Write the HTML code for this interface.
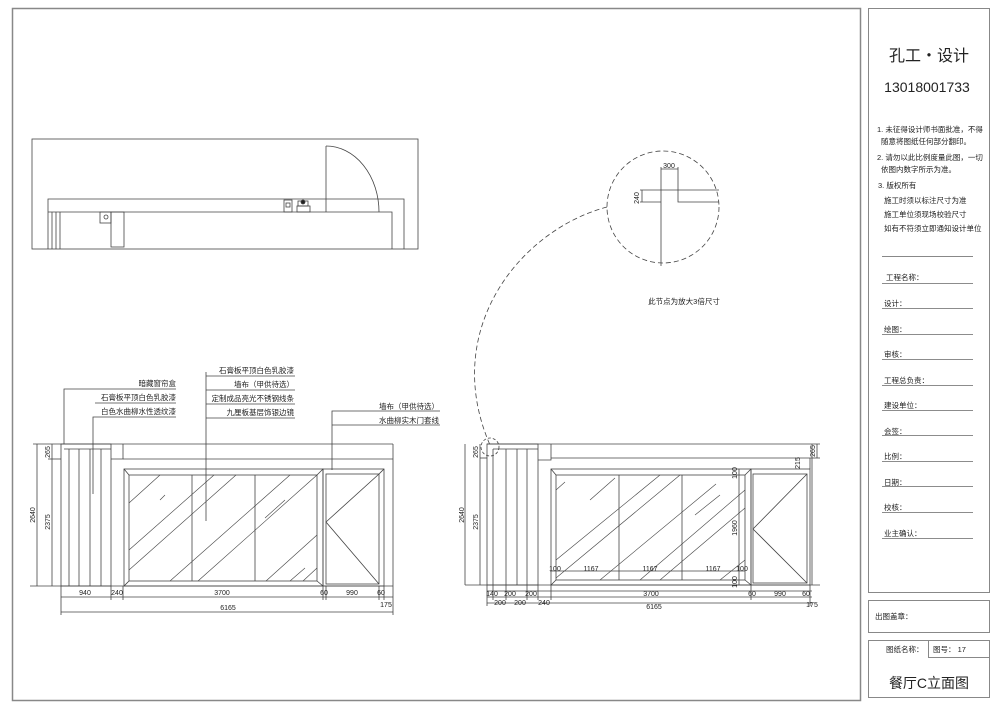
<!DOCTYPE html>
<html><head><meta charset="utf-8"><style>
html,body{margin:0;padding:0;background:#fff;}
svg{display:block;}
text{font-family:"Liberation Sans","Noto Sans CJK SC",sans-serif;fill:#222;}
.t{font-size:7.5px;}
.d{font-size:7px;}
</style></head><body>
<svg width="1000" height="707" viewBox="0 0 1000 707" xmlns="http://www.w3.org/2000/svg">
<g fill="none" stroke="#555" stroke-width="1">
<rect x="12.5" y="8.5" width="848" height="692" stroke="#888" stroke-width="1.5"/>
<rect x="868.5" y="8.5" width="121" height="584" stroke="#888"/>
<rect x="868.5" y="600.5" width="121" height="32" stroke="#888"/>
<rect x="868.5" y="640.5" width="121" height="57" stroke="#888"/>
<line x1="928.5" y1="640" x2="928.5" y2="657" stroke="#888"/>
<line x1="928" y1="657.5" x2="990" y2="657.5" stroke="#888"/>
<line x1="882" y1="256.5" x2="973" y2="256.5" stroke="#888"/>
</g>
<g stroke="#666" stroke-width="0.8">
<line x1="882" y1="283.5" x2="973" y2="283.5"/><line x1="882" y1="308.5" x2="973" y2="308.5"/>
<line x1="882" y1="334.5" x2="973" y2="334.5"/><line x1="882" y1="359.5" x2="973" y2="359.5"/>
<line x1="882" y1="385.5" x2="973" y2="385.5"/><line x1="882" y1="410.5" x2="973" y2="410.5"/>
<line x1="882" y1="435.5" x2="973" y2="435.5"/><line x1="882" y1="461.5" x2="973" y2="461.5"/>
<line x1="882" y1="486.5" x2="973" y2="486.5"/><line x1="882" y1="512.5" x2="973" y2="512.5"/>
<line x1="882" y1="538.5" x2="973" y2="538.5"/>
</g>
<text x="929" y="61" font-size="16" text-anchor="middle">孔工・设计</text>
<text x="927" y="92" font-size="14" text-anchor="middle">13018001733</text>
<g class="t" font-size="7">
<text x="877" y="132">1. 未征得设计师书面批准，不得</text>
<text x="881" y="144">随意将图纸任何部分翻印。</text>
<text x="877" y="160">2. 请勿以此比例度量此图，一切</text>
<text x="881" y="172">依图内数字所示为准。</text>
<text x="878" y="188">3. 版权所有</text>
<text x="884" y="203">施工时须以标注尺寸为准</text>
<text x="884" y="217">施工单位须现场校验尺寸</text>
<text x="884" y="231">如有不符须立即通知设计单位</text>
<text x="886" y="280">工程名称：</text><text x="884" y="306">设计：</text>
<text x="884" y="332">绘图：</text><text x="884" y="357">审核：</text>
<text x="884" y="383">工程总负责：</text><text x="884" y="408">建设单位：</text>
<text x="884" y="434">会签：</text><text x="884" y="459">比例：</text>
<text x="884" y="485">日期：</text><text x="884" y="510">校核：</text>
<text x="884" y="536">业主确认：</text>
<text x="875" y="619">出图盖章：</text>
<text x="886" y="652">图纸名称：</text>
<text x="933" y="652">图号： 17</text>
</g>
<text x="929" y="688" font-size="14" text-anchor="middle">餐厅C立面图</text>

<!-- plan -->
<g fill="none" stroke="#444" stroke-width="0.8">
<rect x="32" y="139" width="386" height="110"/>
<polyline points="48,249 48,199 404,199 404,249"/>
<polyline points="48,212 392,212 392,249"/>
<line x1="52" y1="212" x2="52" y2="249"/><line x1="56" y1="212" x2="56" y2="249"/><line x1="60" y1="212" x2="60" y2="249"/>
<rect x="100" y="212" width="11" height="11"/><circle cx="106" cy="217" r="2"/>
<rect x="111" y="212" width="13" height="35"/>
<line x1="326" y1="146" x2="326" y2="212"/>
<path d="M326,146 A53,66 0 0 1 379,212"/>
<rect x="284" y="200" width="8" height="12"/><rect x="286" y="203" width="4" height="4"/>
<rect x="297" y="206" width="13" height="6"/><rect x="298" y="201" width="10" height="5"/>
<circle cx="303" cy="202" r="2" fill="#222"/>
</g>

<!-- detail circle -->
<g fill="none" stroke="#444" stroke-width="0.8">
<circle cx="663" cy="207" r="56" stroke-dasharray="5,3"/>
<path d="M607,207 C520,230 440,330 490,445" stroke-dasharray="5,3"/>
<circle cx="490" cy="447" r="9" stroke-dasharray="3,2"/>
<line x1="661" y1="167" x2="661" y2="266"/>
<polyline points="640,190 719,190"/>
<polyline points="678,167 678,202 719,202"/>
<line x1="661" y1="169" x2="678" y2="169"/>
<line x1="642" y1="190" x2="642" y2="202"/><line x1="640" y1="202" x2="661" y2="202"/>
</g>
<text x="669" y="168" class="d" text-anchor="middle">300</text>
<text x="639" y="198" class="d" text-anchor="middle" transform="rotate(-90 639 198)">240</text>
<text x="684" y="304" class="t" text-anchor="middle">此节点为放大3倍尺寸</text>

<!-- left elevation -->
<g fill="none" stroke="#444" stroke-width="0.8">
<line x1="61" y1="444" x2="393" y2="444"/>
<line x1="30" y1="586" x2="393" y2="586"/>
<rect x="61" y="444" width="50" height="142"/>
<line x1="69" y1="449" x2="69" y2="586"/><line x1="79" y1="449" x2="79" y2="586"/>
<line x1="90" y1="449" x2="90" y2="586"/><line x1="101" y1="449" x2="101" y2="586"/>
<line x1="64" y1="449" x2="111" y2="449"/>
<polyline points="111,459 123,459 123,444"/>
<line x1="123" y1="459" x2="393" y2="459"/>
<line x1="393" y1="444" x2="393" y2="586"/>
<rect x="124" y="469" width="199" height="117"/>
<rect x="129" y="475" width="188" height="106"/>
<line x1="124" y1="469" x2="129" y2="475"/><line x1="323" y1="469" x2="317" y2="475"/>
<line x1="124" y1="586" x2="129" y2="581"/><line x1="323" y1="586" x2="317" y2="581"/>
<line x1="192" y1="475" x2="192" y2="581"/><line x1="255" y1="475" x2="255" y2="581"/>
<g stroke-width="0.6">
<line x1="129" y1="503" x2="160" y2="475"/><line x1="129" y1="550" x2="214" y2="475"/>
<line x1="129" y1="570" x2="236" y2="475"/><line x1="170" y1="581" x2="290" y2="475"/>
<line x1="198" y1="581" x2="317" y2="475"/><line x1="266" y1="581" x2="317" y2="535"/>
<line x1="160" y1="500" x2="165" y2="495"/><line x1="265" y1="518" x2="285" y2="500"/>
<line x1="290" y1="581" x2="305" y2="568"/><line x1="303" y1="581" x2="317" y2="568"/>
</g>
<rect x="323" y="469" width="61" height="117"/>
<rect x="326" y="474" width="53" height="110"/>
<polyline points="379,474 326,522 379,584"/>
<line x1="384" y1="469" x2="379" y2="474"/>
<line x1="37" y1="444" x2="37" y2="586"/><line x1="52" y1="444" x2="52" y2="586"/>
<line x1="33" y1="444" x2="61" y2="444"/><line x1="48" y1="459" x2="61" y2="459"/>
<line x1="61" y1="597" x2="393" y2="597"/>
<line x1="61" y1="612" x2="393" y2="612"/>
<line x1="61" y1="586" x2="61" y2="615"/><line x1="111" y1="586" x2="111" y2="600"/>
<line x1="123" y1="586" x2="123" y2="600"/><line x1="323" y1="586" x2="323" y2="600"/>
<line x1="326" y1="586" x2="326" y2="600"/><line x1="379" y1="586" x2="379" y2="600"/>
<line x1="384" y1="586" x2="384" y2="600"/><line x1="393" y1="586" x2="393" y2="615"/>
<!-- leaders -->
<polyline points="64,444 64,389 176,389"/>
<line x1="95" y1="403" x2="176" y2="403"/>
<polyline points="93,494 93,417 176,417"/>
<line x1="206" y1="372" x2="206" y2="521"/>
<line x1="206" y1="376" x2="295" y2="376"/><line x1="206" y1="390" x2="295" y2="390"/>
<line x1="206" y1="404" x2="295" y2="404"/><line x1="206" y1="418" x2="295" y2="418"/>
<polyline points="332,470 332,411 440,411"/><line x1="332" y1="425" x2="440" y2="425"/>
</g>
<g class="t" text-anchor="end">
<text x="176" y="386">暗藏窗帘盒</text>
<text x="176" y="400">石膏板平顶白色乳胶漆</text>
<text x="176" y="414">白色水曲柳水性透纹漆</text>
<text x="294" y="373">石膏板平顶白色乳胶漆</text>
<text x="294" y="387">墙布（甲供待选）</text>
<text x="294" y="401">定制成品亮光不锈钢线条</text>
<text x="294" y="415">九厘板基层饰银边镜</text>
<text x="439" y="409">墙布（甲供待选）</text>
<text x="439" y="423">水曲柳实木门套线</text>
</g>
<g class="d" text-anchor="middle">
<text x="85" y="595">940</text><text x="117" y="595">240</text><text x="222" y="595">3700</text>
<text x="324" y="595">60</text><text x="352" y="595">990</text><text x="381" y="595">60</text>
<text x="386" y="607">175</text><text x="228" y="610">6165</text>
<text transform="translate(35,515) rotate(-90)">2640</text>
<text transform="translate(50,522) rotate(-90)">2375</text>
<text transform="translate(50,452) rotate(-90)">265</text>
</g>

<!-- right elevation -->
<g fill="none" stroke="#444" stroke-width="0.8">
<line x1="487" y1="444" x2="820" y2="444"/>
<line x1="465" y1="585" x2="820" y2="585"/>
<rect x="487" y="444" width="51" height="141"/>
<line x1="493" y1="449" x2="493" y2="585"/><line x1="506" y1="449" x2="506" y2="585"/>
<line x1="517" y1="449" x2="517" y2="585"/><line x1="527" y1="449" x2="527" y2="585"/>
<line x1="493" y1="449" x2="538" y2="449"/>
<polyline points="538,460 551,460 551,444"/>
<line x1="551" y1="458" x2="812" y2="458"/>
<line x1="812" y1="444" x2="812" y2="585"/>
<rect x="551" y="469" width="200" height="116"/>
<rect x="556" y="475" width="189" height="105"/>
<line x1="551" y1="469" x2="556" y2="475"/><line x1="751" y1="469" x2="745" y2="475"/>
<line x1="551" y1="585" x2="556" y2="580"/><line x1="751" y1="585" x2="745" y2="580"/>
<line x1="619" y1="475" x2="619" y2="580"/><line x1="682" y1="475" x2="682" y2="580"/>
<line x1="550" y1="571" x2="745" y2="571"/>
<g stroke-width="0.6">
<line x1="556" y1="490" x2="565" y2="482"/><line x1="556" y1="560" x2="660" y2="475"/>
<line x1="556" y1="578" x2="680" y2="475"/><line x1="600" y1="580" x2="716" y2="484"/>
<line x1="640" y1="580" x2="745" y2="490"/><line x1="660" y1="580" x2="745" y2="508"/>
<line x1="590" y1="500" x2="615" y2="478"/><line x1="695" y1="515" x2="720" y2="495"/>
<line x1="720" y1="580" x2="745" y2="560"/>
</g>
<rect x="751" y="469" width="59" height="116"/>
<rect x="753" y="474" width="54" height="109"/>
<polyline points="807,474 753,529 807,583"/>
<line x1="465" y1="444" x2="465" y2="585"/><line x1="480" y1="444" x2="480" y2="585"/>
<line x1="480" y1="458" x2="487" y2="458"/>
<line x1="739" y1="469" x2="739" y2="585"/>
<line x1="817" y1="444" x2="817" y2="458"/><line x1="812" y1="458" x2="820" y2="458"/>
<line x1="810" y1="458" x2="810" y2="469"/>
<line x1="487" y1="591" x2="812" y2="591"/>
<line x1="487" y1="597" x2="812" y2="597"/>
<line x1="487" y1="603" x2="812" y2="603"/>
<line x1="487" y1="585" x2="487" y2="606"/><line x1="493" y1="585" x2="493" y2="600"/>
<line x1="506" y1="585" x2="506" y2="600"/><line x1="527" y1="585" x2="527" y2="600"/>
<line x1="538" y1="585" x2="538" y2="600"/><line x1="551" y1="585" x2="551" y2="600"/>
<line x1="751" y1="585" x2="751" y2="600"/><line x1="810" y1="585" x2="810" y2="606"/>
</g>
<g class="d" text-anchor="middle">
<text x="492" y="596">140</text><text x="510" y="596">200</text><text x="531" y="596">200</text>
<text x="500" y="605">200</text><text x="520" y="605">200</text><text x="544" y="605">240</text>
<text x="651" y="596">3700</text><text x="752" y="596">60</text><text x="780" y="596">990</text><text x="806" y="596">60</text>
<text x="812" y="607">175</text><text x="654" y="609">6165</text>
<text x="555" y="571">100</text><text x="591" y="571">1167</text><text x="650" y="571">1167</text>
<text x="713" y="571">1167</text><text x="742" y="571">100</text>
<text transform="translate(464,515) rotate(-90)">2640</text>
<text transform="translate(478,522) rotate(-90)">2375</text>
<text transform="translate(478,452) rotate(-90)">265</text>
<text transform="translate(737,528) rotate(-90)">1960</text>
<text transform="translate(737,473) rotate(-90)">100</text>
<text transform="translate(737,582) rotate(-90)">100</text>
<text transform="translate(800,463) rotate(-90)">215</text>
<text transform="translate(815,451) rotate(-90)">265</text>
</g>
</svg>
</body></html>
